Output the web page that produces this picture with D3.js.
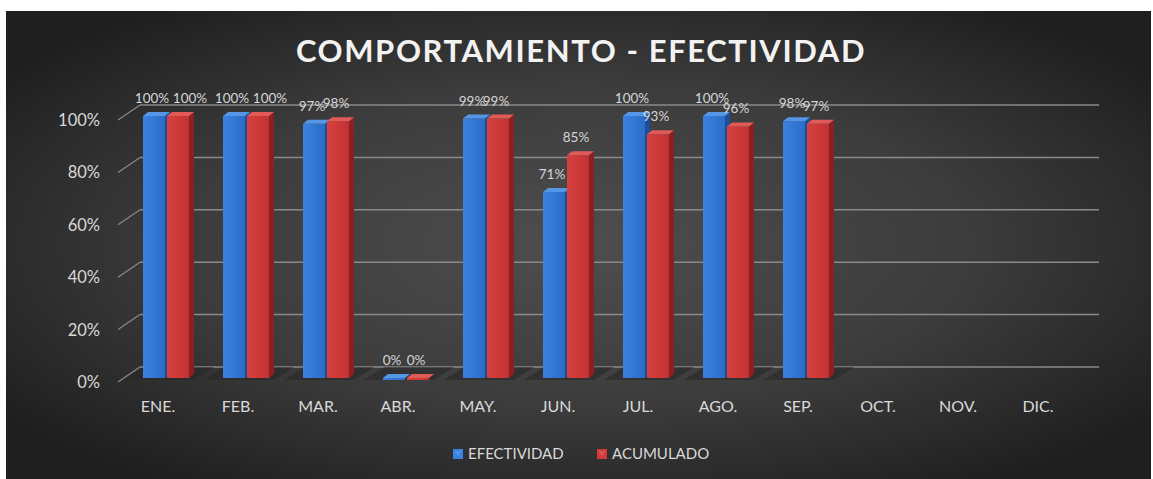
<!DOCTYPE html>
<html>
<head>
<meta charset="utf-8">
<script src="https://cdn.jsdelivr.net/npm/d3@7"></script>
<style>
  html, body { margin: 0; padding: 0; background: #fff; }
  svg { display: block; }
  text { font-family: Lato, "Open Sans", sans-serif; }
</style>
</head>
<body>
<svg id="chart" width="1153" height="479"></svg>
<script>
// data
const months = ['ENE.', 'FEB.', 'MAR.', 'ABR.', 'MAY.', 'JUN.', 'JUL.', 'AGO.', 'SEP.', 'OCT.', 'NOV.', 'DIC.'];
const efectividad = [1.00, 1.00, 0.97, 0.00, 0.99, 0.71, 1.00, 1.00, 0.98, null, null, null];
const acumulado = [1.00, 1.00, 0.98, 0.00, 0.99, 0.85, 0.93, 0.96, 0.97, null, null, null];
const yTicks = [0, 0.2, 0.4, 0.6, 0.8, 1.0];
const seriesNames = ['EFECTIVIDAD', 'ACUMULADO'];

// layout bits
const W = 1153, H = 479;
const depthX = 5, depthY = 4;       // bar 3d depth
const wallOffset = 12;              // front floor vs back wall
const barW = 22;

const svg = d3.select('#chart');
const defs = svg.append('defs');

const bg = defs.append('radialGradient').attr('id', 'bg')
  .attr('cx', '50%').attr('cy', '50%').attr('r', '62%');
bg.append('stop').attr('offset', '0%').attr('stop-color', '#4e4e4e');
bg.append('stop').attr('offset', '55%').attr('stop-color', '#3c3c3c');
bg.append('stop').attr('offset', '100%').attr('stop-color', '#1f1f1f');

function faceGrad(id, c1, c2) {
  const g = defs.append('linearGradient').attr('id', id)
    .attr('x1', '0%').attr('x2', '100%').attr('y1', '0%').attr('y2', '0%');
  g.append('stop').attr('offset', '0%').attr('stop-color', c1);
  g.append('stop').attr('offset', '100%').attr('stop-color', c2);
}
faceGrad('blueFront', '#3a82e0', '#2b6cc6');
faceGrad('redFront', '#d8403f', '#c23232');

const colors = [
  { front: 'url(#blueFront)', top: '#5596e6', side: '#1d4e98', legend: '#3a82e0' },
  { front: 'url(#redFront)', top: '#e25a58', side: '#8c1f20', legend: '#d23a3a' }
];

svg.append('rect')
  .attr('x', 6).attr('y', 11)
  .attr('width', W - 8).attr('height', H - 11)
  .attr('fill', 'url(#bg)');

// scales
const x = d3.scaleBand().domain(months).range([118, 1078]).padding(0);
const yBack = d3.scaleLinear().domain([0, 1]).range([367, 105]);
const yFront = v => yBack(v) + wallOffset - 1;
const floorY = yFront(0);

// title
svg.append('text')
  .attr('x', 581).attr('y', 62)
  .attr('text-anchor', 'middle')
  .attr('fill', '#f2f2f2')
  .attr('font-size', 31)
  .attr('font-weight', 700)
  .attr('letter-spacing', 1.6)
  .text('COMPORTAMIENTO - EFECTIVIDAD');

// gridlines on the back wall + diagonal connectors
const grid = svg.append('g');
grid.selectAll('line.grid')
  .data(yTicks)
  .join('line')
  .attr('class', 'grid')
  .attr('x1', 140).attr('x2', 1099)
  .attr('y1', d => yBack(d)).attr('y2', d => yBack(d))
  .attr('stroke', '#8a8a8a').attr('stroke-width', 1.5);

grid.selectAll('line.diag')
  .data(yTicks)
  .join('line')
  .attr('class', 'diag')
  .attr('x1', 118).attr('x2', 140)
  .attr('y1', d => yBack(d) + 15).attr('y2', d => yBack(d))
  .attr('stroke', '#8a8a8a').attr('stroke-width', 1.2);

grid.selectAll('text')
  .data(yTicks)
  .join('text')
  .attr('x', 100)
  .attr('y', d => yBack(d) + 21)
  .attr('text-anchor', 'end')
  .attr('fill', '#d9d9d9')
  .attr('font-size', 16.5)
  .text(d3.format('.0%'));

// floor shadows under months that have data
const withData = months.filter((m, i) => efectividad[i] !== null);
svg.append('g').selectAll('path')
  .data(withData)
  .join('path')
  .attr('d', m => {
    const x0 = x(m) + 6, x1 = x(m) + x.bandwidth() - 4;
    return `M${x0},${floorY + 2}L${x0 + 20},${yBack(0)}L${x1 + 20},${yBack(0)}L${x1},${floorY + 2}Z`;
  })
  .attr('fill', '#262626')
  .attr('opacity', 0.55);

// bars
const series = [efectividad, acumulado];
const barsG = svg.append('g');
const labelsG = svg.append('g');
series.forEach((vals, s) => {
  const data = months.map((m, i) => ({ m, i, v: vals[i] })).filter(d => d.v !== null);
  const bx = d => x(d.m) + x.bandwidth() / 2 - 15 + s * 24;
  const g = barsG.append('g').selectAll('g').data(data).join('g');

  // side face
  g.append('path')
    .attr('d', d => {
      const x0 = bx(d) + barW, t = yFront(d.v);
      return `M${x0},${t}L${x0 + depthX},${t - depthY}L${x0 + depthX},${floorY - depthY}L${x0},${floorY}Z`;
    })
    .attr('fill', colors[s].side);

  // front face
  g.append('rect')
    .attr('x', bx)
    .attr('y', d => yFront(d.v))
    .attr('width', barW)
    .attr('height', d => Math.max(floorY - yFront(d.v), 2))
    .attr('fill', colors[s].front);

  // top face
  g.append('path')
    .attr('d', d => {
      const x0 = bx(d), t = yFront(d.v);
      return `M${x0},${t}L${x0 + depthX},${t - depthY}L${x0 + barW + depthX},${t - depthY}L${x0 + barW},${t}Z`;
    })
    .attr('fill', colors[s].top);

  // value labels (red one pushed aside when both read 100%)
  labelsG.append('g').selectAll('text').data(data).join('text')
    .attr('x', d => {
      let cx = bx(d) + barW / 2 - 2;
      if (s === 1 && efectividad[d.i] === 1 && d.v === 1) cx += 14;
      return cx;
    })
    .attr('y', d => yFront(d.v) - 13)
    .attr('text-anchor', 'middle')
    .attr('fill', '#d6d6d6')
    .attr('font-size', 13.5)
    .text(d => d3.format('.0%')(d.v));
});

// month labels
svg.append('g').selectAll('text')
  .data(months)
  .join('text')
  .attr('x', m => x(m) + x.bandwidth() / 2)
  .attr('y', 412)
  .attr('text-anchor', 'middle')
  .attr('fill', '#d9d9d9')
  .attr('font-size', 16)
  .text(m => m);

// legend
const legendX = [453, 597];
const lg = svg.append('g').selectAll('g')
  .data(seriesNames)
  .join('g')
  .attr('transform', (d, i) => `translate(${legendX[i]},449)`);
lg.append('rect')
  .attr('width', 10).attr('height', 10)
  .attr('fill', (d, i) => colors[i].legend);
lg.append('path')
  .attr('d', 'M1,2L9,2L5,7Z')
  .attr('fill', (d, i) => colors[i].top)
  .attr('opacity', 0.8);
lg.append('text')
  .attr('x', 15).attr('y', 10)
  .attr('fill', '#d9d9d9')
  .attr('font-size', 15)
  .text(d => d);
</script>
</body>
</html>
